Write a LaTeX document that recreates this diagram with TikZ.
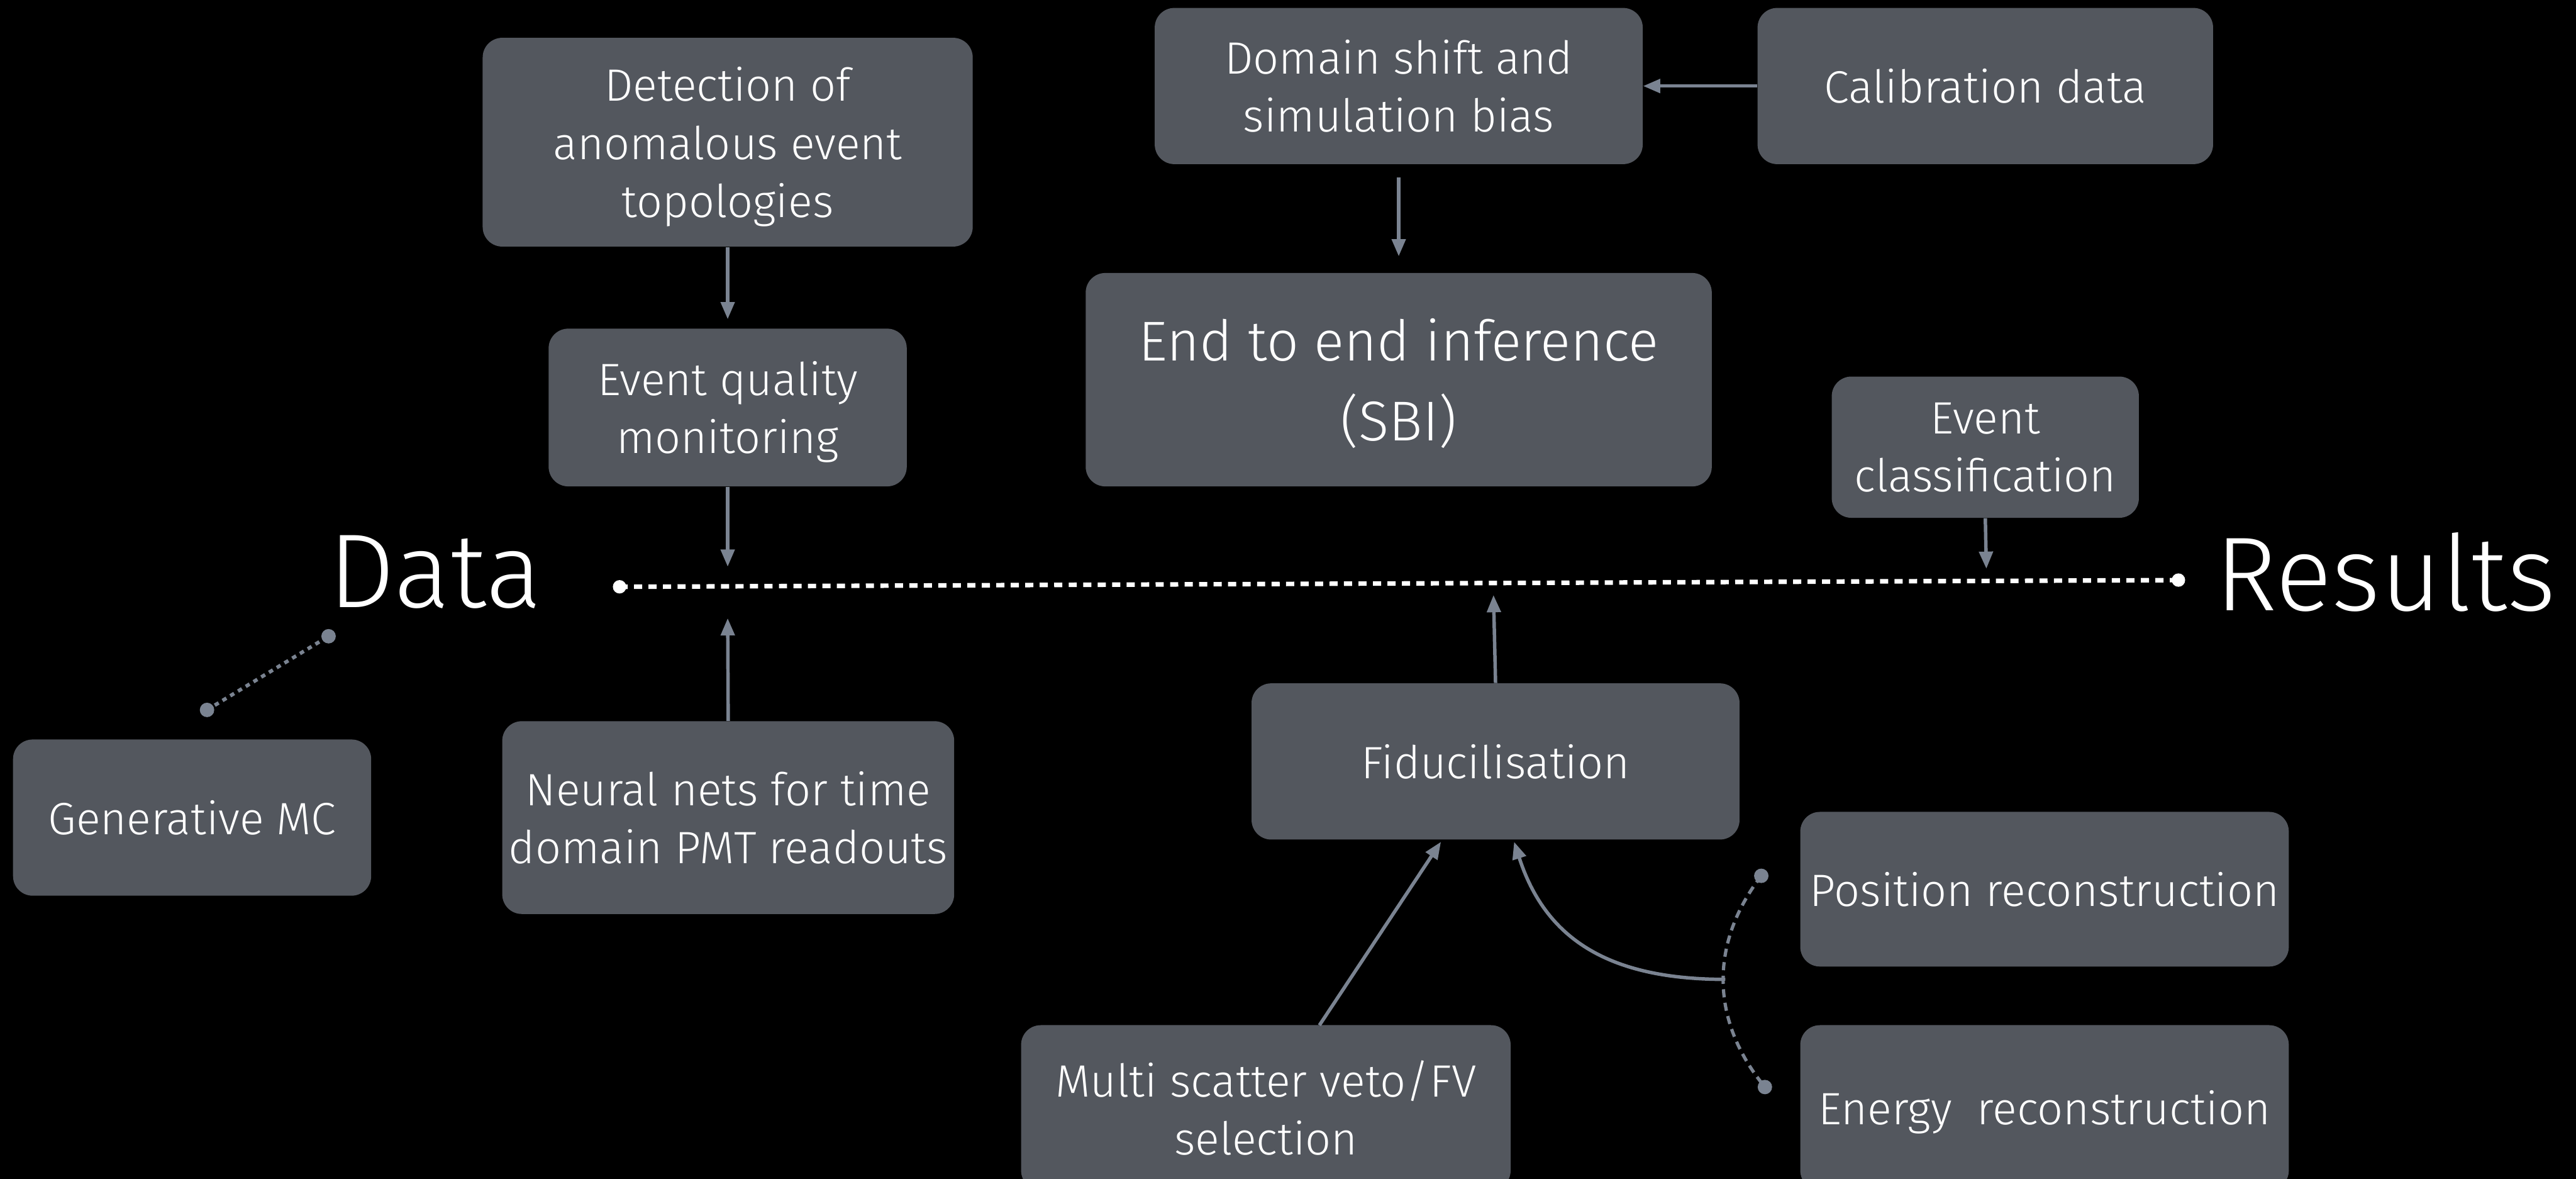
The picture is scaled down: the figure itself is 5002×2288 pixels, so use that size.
\documentclass[tikz,border=0pt]{standalone}
\usepackage{fontspec}
\setmainfont{Fira Sans}[UprightFont=* Light]
\usetikzlibrary{arrows.meta}
\definecolor{boxfill}{HTML}{53575E}
\definecolor{arrcol}{HTML}{7A8391}
\begin{document}
\begin{tikzpicture}[x=0.01cm,y=-0.01cm,
  box/.style={draw=none,fill=boxfill,rounded corners=0.38cm,text=white,align=center,inner sep=0pt,text depth=0pt,font=\fontsize{25}{32}\selectfont},
  arr/.style={draw=arrcol,line width=1.9pt,-{Triangle[length=9.5pt,width=7.5pt]}},
  dotw/.style={circle,fill=white,inner sep=0pt,minimum size=0.26cm},
  dotg/.style={circle,fill=arrcol,inner sep=0pt,minimum size=0.28cm},
  big/.style={text=white,inner sep=0pt,font=\fontsize{58}{60}\selectfont}]
\fill[black] (0,0) rectangle (5002,2288);
\useasboundingbox (0,0) rectangle (5002,2288);
% boxes
\node[box,minimum width=9.51cm,minimum height=4.05cm] (det) at (1413,276) {Detection of\\anomalous event\\topologies};
\node[box,minimum width=6.95cm,minimum height=3.06cm] (eq) at (1413,791) {Event quality\\monitoring};
\node[box,minimum width=9.47cm,minimum height=3.03cm] (dom) at (2716,167) {Domain shift and\\simulation bias};
\node[box,minimum width=8.84cm,minimum height=3.03cm] (cal) at (3855,167) {Calibration data};
\node[box,minimum width=12.15cm,minimum height=4.14cm,font=\fontsize{31}{44}\selectfont] (e2e) at (2716,737) {End to end inference\\(SBI)};
\node[box,minimum width=5.96cm,minimum height=2.74cm] (ecl) at (3855,868) {Event\\classification};
\node[box,minimum width=6.95cm,minimum height=3.03cm] (gen) at (373,1587) {Generative MC};
\node[box,minimum width=8.77cm,minimum height=3.74cm] (nn) at (1414,1587) {Neural nets for time\\domain PMT readouts};
\node[box,minimum width=9.47cm,minimum height=3.03cm] (fid) at (2904,1478) {Fiducilisation};
\node[box,minimum width=9.48cm,minimum height=3.00cm] (pos) at (3970,1726) {Position reconstruction};
\node[box,minimum width=9.48cm,minimum height=3.20cm] (en) at (3970,2150) {Energy\ \ reconstruction};
\node[box,minimum width=9.50cm,minimum height=3.20cm] (ms) at (2458,2150) {Multi scatter veto/FV\\selection};
% big labels
\node[big] (data) at (845,1110) {Data};
\node[big] (res) at (4632,1110) {Results};
% main dotted line
\node[dotw] (dl) at (1203,1139) {};
\node[dotw] (dr) at (4230,1126) {};
\draw[white,line width=2.5pt,dash pattern=on 4.5pt off 3.5pt] (dl.center) -- (dr.center);
% coordinates on line
\coordinate (t1) at (1413,1100);
\coordinate (t2) at (1413,1200);
\coordinate (t3) at (2900,1155);
\coordinate (t4) at (3857,1104);
% arrows
\draw[arr,shorten >=5pt] (det.south) -- (eq.north);
\draw[arr] (eq.south) -- (t1);
\draw[arr] (nn.north) -- (t2);
\draw[arr] (cal.west) -- (dom.east);
\draw[arr,shorten <=7pt,shorten >=9pt] (dom.south) -- (e2e.north);
\draw[arr] (ecl.south) -- (t4);
\draw[arr] (fid.north) -- (t3);
\coordinate (msT) at (2562,1990);
\coordinate (fidA) at (2798,1634);
\draw[arr] (msT) -- (fidA);
% curved connector from reconstruction group
\node[dotg] (pd) at (3420,1700) {};
\node[dotg] (ed) at (3427,2110) {};
\coordinate (jn) at (3350,1901);
\coordinate (fidB) at (2940,1634);
\draw[arrcol,line width=1.8pt,dash pattern=on 4.5pt off 3pt] (pd.center) .. controls (3320,1830) and (3320,1980) .. (ed.center);
\draw[arr] (jn) .. controls (3120,1901) and (3000,1820) .. (fidB);
% generative MC dotted link
\node[dotg] (g1) at (402,1378) {};
\node[dotg] (g2) at (638,1235) {};
\draw[arrcol,line width=2pt,dash pattern=on 2.5pt off 2.5pt] (g1.center) -- (g2.center);
\end{tikzpicture}
\end{document}
